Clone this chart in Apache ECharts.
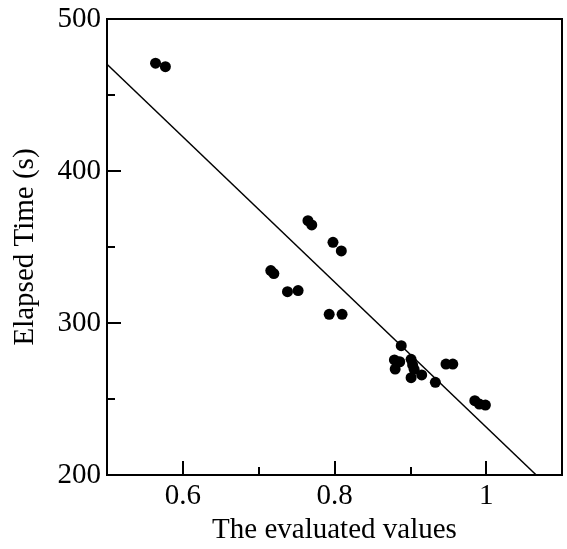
<!DOCTYPE html>
<html>
<head>
<meta charset="utf-8">
<script src="https://cdn.jsdelivr.net/npm/echarts@6/dist/echarts.min.js"></script>
<style>
    html, body { margin: 0; padding: 0; background: #fff; }
    #chart { width: 567px; height: 549px; }
</style>
</head>
<body>
<div id="chart"></div>
<script>
// measured points: evaluated value vs elapsed time (s)
const evalValues = [0.564, 0.577, 0.765, 0.770, 0.798, 0.809, 0.716, 0.720, 0.738, 0.752,
    0.793, 0.810, 0.888, 0.879, 0.886, 0.880, 0.901, 0.903, 0.905, 0.901, 0.915, 0.933,
    0.947, 0.956, 0.985, 0.991, 0.999];
const elapsed = [470.9, 468.6, 367.3, 364.5, 353.1, 347.4, 334.5, 332.5, 320.6, 321.3,
    305.7, 305.7, 285.1, 275.7, 274.5, 269.7, 276.1, 272.4, 269.5, 264.0, 265.8, 261.0,
    273.0, 273.0, 248.9, 246.7, 246.0];
// fitted line end points
const fitX = [0.5, 1.066];
const fitY = [470.2, 200];
const xMajor = [0.6, 0.8, 1];
const xMinor = [0.5, 0.7, 0.9, 1.1];

const font = 'Liberation Serif, Times New Roman, serif';
const chart = echarts.init(document.getElementById('chart'));

const points = evalValues.map((v, i) => [v, elapsed[i]]);
const fit = fitX.map((v, i) => [v, fitY[i]]);

chart.setOption({
    animation: false,
    grid: {
        left: 107, top: 19, right: 5, bottom: 74,
        outerBoundsMode: 'none', containLabel: false,
        show: true, borderColor: '#000', borderWidth: 2, backgroundColor: 'transparent'
    },
    xAxis: [
        {
            type: 'value', min: 0.5, max: 1.1,
            name: 'The evaluated values', nameLocation: 'middle', nameGap: 37,
            nameTextStyle: {fontFamily: font, fontSize: 29, color: '#000'},
            axisLine: {show: true, lineStyle: {color: '#000', width: 2}},
            axisTick: {show: true, inside: true, length: 14, customValues: xMajor,
                lineStyle: {color: '#000', width: 2}},
            axisLabel: {customValues: xMajor, fontFamily: font, fontSize: 29, color: '#000', margin: 7,
                formatter: v => String(+v.toFixed(1))},
            splitLine: {show: false}
        },
        {
            type: 'value', min: 0.5, max: 1.1, position: 'bottom',
            axisLine: {show: false},
            axisTick: {show: true, inside: true, length: 8, customValues: xMinor,
                lineStyle: {color: '#000', width: 2}},
            axisLabel: {show: false},
            splitLine: {show: false}
        }
    ],
    yAxis: {
        type: 'value', min: 200, max: 500, interval: 100,
        name: 'Elapsed Time (s)', nameLocation: 'middle', nameGap: 67,
        nameTextStyle: {fontFamily: font, fontSize: 29, color: '#000'},
        axisLine: {show: true, lineStyle: {color: '#000', width: 2}},
        axisTick: {show: true, inside: true, length: 14, lineStyle: {color: '#000', width: 2}},
        minorTick: {show: true, splitNumber: 2, length: 8, lineStyle: {color: '#000', width: 2}},
        axisLabel: {fontFamily: font, fontSize: 29, color: '#000', margin: 6},
        splitLine: {show: false},
        minorSplitLine: {show: false}
    },
    series: [
        {
            type: 'line', data: fit, symbol: 'none',
            lineStyle: {color: '#000', width: 1.5}
        },
        {
            type: 'scatter', data: points, symbolSize: 11,
            itemStyle: {color: '#000', opacity: 1}
        }
    ]
});
</script>
</body>
</html>
